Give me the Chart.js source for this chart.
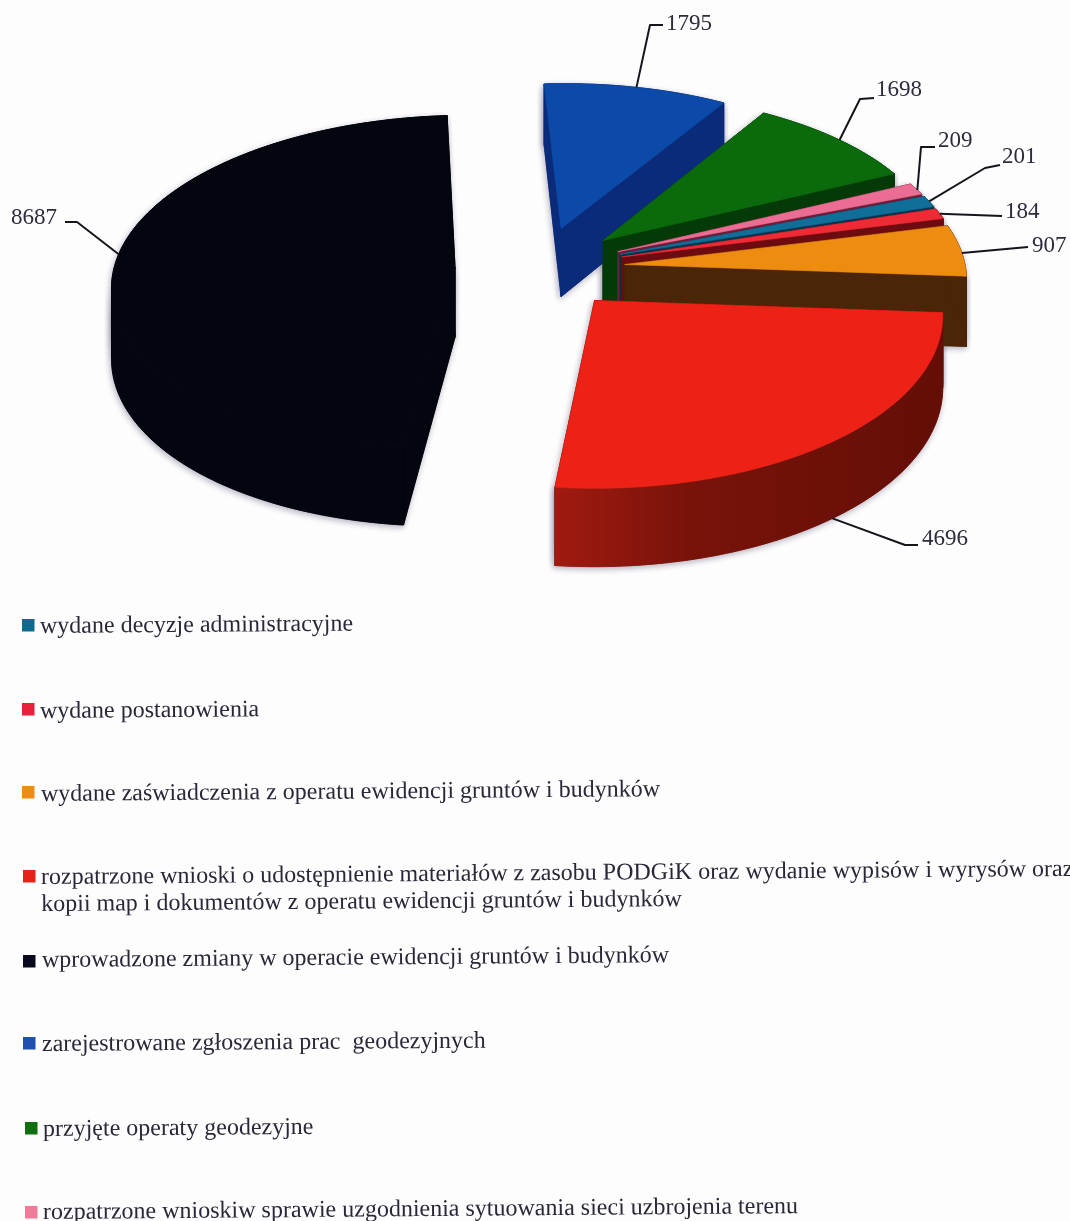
<!DOCTYPE html>
<html lang="pl">
<head>
<meta charset="utf-8">
<style>html,body{margin:0;padding:0;background:#fdfdfe}canvas{display:block}</style>
<script src="https://cdn.jsdelivr.net/npm/chart.js@4"></script>
</head>
<body>
<canvas id="c" width="1070" height="1221"></canvas>
<script>
const categories = [
  ['wydane decyzje administracyjne'],
  ['wydane postanowienia'],
  ['wydane zaświadczenia z operatu ewidencji gruntów i budynków'],
  ['rozpatrzone wnioski o udostępnienie materiałów z zasobu PODGiK oraz wydanie wypisów i wyrysów oraz', 'kopii map i dokumentów z operatu ewidencji gruntów i budynków'],
  ['wprowadzone zmiany w operacie ewidencji gruntów i budynków'],
  ['zarejestrowane zgłoszenia prac  geodezyjnych'],
  ['przyjęte operaty geodezyjne'],
  ['rozpatrzone wnioskiw sprawie uzgodnienia sytuowania sieci uzbrojenia terenu']
];
const values = [201, 184, 907, 4696, 8687, 1795, 1698, 209];
const topColors = ['#0f6f99', '#ee2a35', '#ee8c10', '#ee2116', '#03050f', '#0b4aa8', '#0b6a0b', '#ec6d94'];
const sideColors = ['#07304a', '#6e0b10', '#4b2507', '#701008', '#03050f', '#0a2a7a', '#043a08', '#6e1c38'];
const swatchColors = ['#0f6a8c', '#e8203c', '#ee8c1a', '#e8201a', '#0a0a1e', '#2050b0', '#107010', '#f07a9a'];
const drawOrder = [5, 6, 7, 0, 1, 2, 3, 4];

// projection of the flat pie to the tilted view
const TILT = 0.49, PERSP = 0.09, SKEW = 0.015, DEPTH = 70;
function project(arc, u, v) {
  const r = arc.outerRadius, s = 1 + PERSP * v / r;
  return { x: arc.x + u * s - SKEW * v, y: arc.y + v * TILT * s, d: DEPTH * (1 + 0.1 * v / r) };
}
function slicePoint(arc, angle, radius) {
  const shift = (arc.options.offset || 0) / 4, mid = (arc.startAngle + arc.endAngle) / 2;
  return project(arc,
    Math.cos(mid) * shift + Math.cos(angle) * radius,
    Math.sin(mid) * shift + Math.sin(angle) * radius);
}
function rimPoints(arc) {
  const n = Math.max(4, Math.ceil((arc.endAngle - arc.startAngle) * 60)), pts = [];
  for (let i = 0; i <= n; i++) {
    pts.push(slicePoint(arc, arc.startAngle + (arc.endAngle - arc.startAngle) * i / n, arc.outerRadius));
  }
  return pts;
}
function poly(ctx, pts, fill) {
  ctx.beginPath();
  pts.forEach((p, i) => i ? ctx.lineTo(p.x, p.y) : ctx.moveTo(p.x, p.y));
  ctx.closePath();
  ctx.fillStyle = fill;
  ctx.strokeStyle = fill;
  ctx.lineWidth = 0.6;
  ctx.fill();
  ctx.stroke();
}
const drop = p => ({ x: p.x, y: p.y + p.d });

// the wall is split where the rim folds back, each run being one simple polygon without seams
function wallRuns(rim) {
  const runs = [];
  let run = [rim[0]], dir = 0;
  for (let k = 1; k < rim.length; k++) {
    const sign = Math.sign(rim[k].x - rim[k - 1].x);
    if (dir && sign && sign !== dir) { runs.push(run); run = [rim[k - 1]]; }
    if (sign) dir = sign;
    run.push(rim[k]);
  }
  runs.push(run);
  return runs;
}

function faces(ctx, arc, i, shadowOnly) {
  const rim = rimPoints(arc), apex = slicePoint(arc, 0, 0);
  const first = rim[0], last = rim[rim.length - 1];
  // cut faces, then the outer wall, then the top
  poly(ctx, [apex, first, drop(first), drop(apex)], sideColors[i]);
  poly(ctx, [apex, last, drop(last), drop(apex)], sideColors[i]);
  let wall = sideColors[i];
  if (i === 3 && !shadowOnly) {
    const g = ctx.createLinearGradient(last.x, 0, first.x, 0);
    g.addColorStop(0, '#a01a10'); g.addColorStop(0.35, '#78130a'); g.addColorStop(1, '#640e06');
    wall = g;
  }
  wallRuns(rim).forEach(run => poly(ctx, run.concat(run.slice().reverse().map(drop)), wall));
  if (!shadowOnly) poly(ctx, [apex].concat(rim), topColors[i]);
}

const pie3d = {
  id: 'pie3d',
  beforeDatasetDraw(chart) {
    const ctx = chart.ctx, arcs = chart.getDatasetMeta(0).data;
    ctx.save();
    ctx.shadowColor = 'rgba(70,60,90,0.4)';
    ctx.shadowBlur = 6;
    ctx.shadowOffsetX = -1;
    ctx.shadowOffsetY = 2;
    drawOrder.forEach(i => faces(ctx, arcs[i], i, true));
    ctx.restore();
    drawOrder.forEach(i => faces(ctx, arcs[i], i, false));
    return false;
  },
  afterDatasetsDraw(chart) {
    const ctx = chart.ctx, arcs = chart.getDatasetMeta(0).data;
    // value labels with leader lines
    const leaders = [
      { i: 0, f: 0.5, path: [[985, 168], [1000, 165]], text: [1002, 163] },
      { i: 1, f: 0.5, path: [[1002, 216]], text: [1005, 218] },
      { i: 2, f: 0.55, path: [[1028, 247]], text: [1032, 252] },
      { i: 3, f: 0.5, low: true, path: [[905, 545], [918, 545]], text: [922, 545] },
      { i: 4, f: 0.52, path: [[77, 222], [65, 222]], text: [11, 224] },
      { i: 5, f: 0.5, path: [[650, 25], [663, 25]], text: [666, 30] },
      { i: 6, f: 0.52, path: [[860, 99], [874, 98]], text: [876, 96] },
      { i: 7, f: 0.6, path: [[921, 147], [935, 147]], text: [938, 147] }
    ];
    ctx.save();
    ctx.strokeStyle = '#15151c';
    ctx.lineWidth = 2;
    ctx.lineJoin = 'round';
    ctx.font = '23px "Liberation Serif"';
    ctx.textBaseline = 'alphabetic';
    leaders.forEach(l => {
      const arc = arcs[l.i];
      const p = slicePoint(arc, arc.startAngle + (arc.endAngle - arc.startAngle) * l.f, arc.outerRadius);
      ctx.beginPath();
      ctx.moveTo(p.x, l.low ? p.y + p.d : p.y);
      l.path.forEach(q => ctx.lineTo(q[0], q[1]));
      ctx.stroke();
      ctx.fillStyle = '#2c2c3c';
      ctx.fillText(String(values[l.i]), l.text[0], l.text[1]);
    });
    ctx.restore();
    // legend
    const rows = [
      [22, 619, 40, 633], [22, 703, 40, 718], [22, 786, 41, 801], [23, 870, 41, 884],
      [23, 955, 42, 967], [23, 1037, 42, 1051], [25, 1122, 43, 1136], [25, 1206, 43, 1219]
    ];
    ctx.save();
    rows.forEach((r, i) => {
      ctx.fillStyle = swatchColors[i];
      ctx.fillRect(r[0], r[1], 12.5, 12.5);
      ctx.save();
      ctx.translate(r[2], r[3]);
      ctx.rotate(-0.0078);
      ctx.font = '24px "Liberation Serif"';
      ctx.fillStyle = '#2a2838';
      categories[i].forEach((line, k) => ctx.fillText(line, 0, k * 27));
      ctx.restore();
    });
    ctx.restore();
  }
};

new Chart(document.getElementById('c'), {
  type: 'pie',
  data: {
    labels: categories.map(c => c.join(' ')),
    datasets: [{ data: values, backgroundColor: topColors, borderWidth: 0, offset: 340 }]
  },
  options: {
    responsive: false,
    animation: false,
    radius: 341,
    rotation: 68.7,
    layout: { padding: { left: 10, bottom: 685 } },
    plugins: { legend: { display: false }, tooltip: { enabled: false } }
  },
  plugins: [pie3d]
});
</script>
</body>
</html>
